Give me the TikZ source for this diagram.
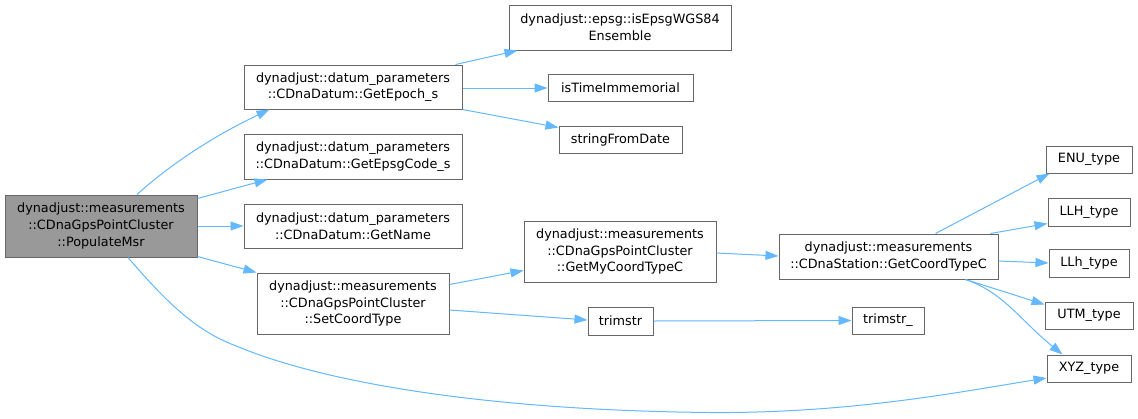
\documentclass[tikz,border=0pt]{standalone}
\usepackage{fontspec}
\setmainfont{DejaVu Sans}
\usetikzlibrary{arrows.meta}
\definecolor{edgeblue}{HTML}{63B8FF}
\definecolor{boxline}{HTML}{666666}
\definecolor{mainfill}{HTML}{999999}
\tikzset{
  fn/.style={draw=boxline, line width=1pt, fill=white, rectangle, inner sep=0pt, align=center,
    font=\fontsize{12.8}{16.7}\selectfont, text=black},
  mainfn/.style={fn, fill=mainfill},
  call/.style={draw=edgeblue, line width=1pt, -{Triangle[length=13pt,width=9pt]}}
}
\begin{document}
\begin{tikzpicture}[x=1pt,y=-1pt]
\useasboundingbox (0,0) rectangle (1138,418);
\fill[white] (0,0) rectangle (1138,418);
% nodes
\node[mainfn, minimum width=192pt, minimum height=62pt] (pop) at (101,226) {dynadjust::measurements\\::CDnaGpsPointCluster\\::PopulateMsr};
\node[fn, minimum width=218pt, minimum height=44pt] (epoch) at (353,87) {dynadjust::datum\_parameters\\::CDnaDatum::GetEpoch\_s};
\node[fn, minimum width=218pt, minimum height=45pt] (epsg) at (353,156.5) {dynadjust::datum\_parameters\\::CDnaDatum::GetEpsgCode\_s};
\node[fn, minimum width=218pt, minimum height=44pt] (name) at (353,226) {dynadjust::datum\_parameters\\::CDnaDatum::GetName};
\node[fn, minimum width=192pt, minimum height=61pt] (setct) at (353,303.5) {dynadjust::measurements\\::CDnaGpsPointCluster\\::SetCoordType};
\node[fn, minimum width=192pt, minimum height=61pt] (myct) at (620,251.5) {dynadjust::measurements\\::CDnaGpsPointCluster\\::GetMyCoordTypeC};
\node[fn, minimum width=65pt, minimum height=28pt] (trim) at (620.5,321) {trimstr};
\node[fn, minimum width=222pt, minimum height=45pt] (wgs) at (620,27.5) {dynadjust::epsg::isEpsgWGS84\\Ensemble};
\node[fn, minimum width=145pt, minimum height=27pt] (tim) at (620.5,87.5) {isTimeImmemorial};
\node[fn, minimum width=123pt, minimum height=27pt] (sfd) at (620.5,139.5) {stringFromDate};
\node[fn, minimum width=219pt, minimum height=45pt] (gct) at (888.5,256.5) {dynadjust::measurements\\::CDnaStation::GetCoordTypeC};
\node[fn, minimum width=72pt, minimum height=27pt] (trimu) at (888,320.5) {trimstr\_};
\node[fn, minimum width=86pt, minimum height=27pt] (enu) at (1089,159.5) {ENU\_type};
\node[fn, minimum width=82pt, minimum height=28pt] (llhU) at (1089,212) {LLH\_type};
\node[fn, minimum width=80pt, minimum height=28pt] (llhL) at (1089,263) {LLh\_type};
\node[fn, minimum width=88pt, minimum height=27pt] (utm) at (1089,315.5) {UTM\_type};
\node[fn, minimum width=84pt, minimum height=27pt] (xyz) at (1089,368.5) {XYZ\_type};
% edges from PopulateMsr
\draw[call] ([xshift=36pt]pop.north) .. controls +(33,-30) and +(-55,26) .. ([xshift=26pt]epoch.south west);
\draw[call] ([yshift=-4pt]pop.north east) -- ([xshift=24pt]epsg.south west);
\draw[call] (pop.east) -- (name.west);
\draw[call] ([yshift=1pt]pop.south east) -- (setct.north west);
\draw[call] ([xshift=27pt]pop.south) .. controls +(37,43) and +(-40,-15) .. ++(107,88)
  .. controls +(95,40) and +(-210,-2) .. ++(475,67)
  .. controls +(140,1) and +(-87,14) .. ([yshift=-9.5pt]xyz.west);
% edges from GetEpoch_s
\draw[call] ([xshift=-7pt]epoch.north east) -- ([xshift=9pt]wgs.south west);
\draw[call] ([yshift=-1pt]epoch.east) -- ([yshift=-0.5pt]tim.west);
\draw[call] (epoch.south east) -- ([yshift=-2pt]sfd.north west);
% edges from SetCoordType
\draw[call] ([yshift=-12pt]setct.north east) -- ([yshift=12pt]myct.south west);
\draw[call] ([yshift=-6.5pt]setct.east) -- ([yshift=1pt]trim.west);
% remaining
\draw[call] ([yshift=-1.5pt]myct.east) -- ([yshift=0.5pt]gct.west);
\draw[call] (trim.east) -- (trimu.west);
\draw[call] ([xshift=47pt]gct.north) -- ([xshift=4pt]enu.south west);
\draw[call] ([xshift=-8pt]gct.north east) -- ([yshift=3pt]llhU.south west);
\draw[call] ([yshift=-4.5pt]gct.east) -- (llhL.west);
\draw[call] ([xshift=77pt]gct.south) -- ([yshift=-3pt]utm.north west);
\draw[call] ([xshift=77pt]gct.south) .. controls +(38,13) and +(-43,-35) .. ([xshift=16pt]xyz.north west);
\end{tikzpicture}
\end{document}
